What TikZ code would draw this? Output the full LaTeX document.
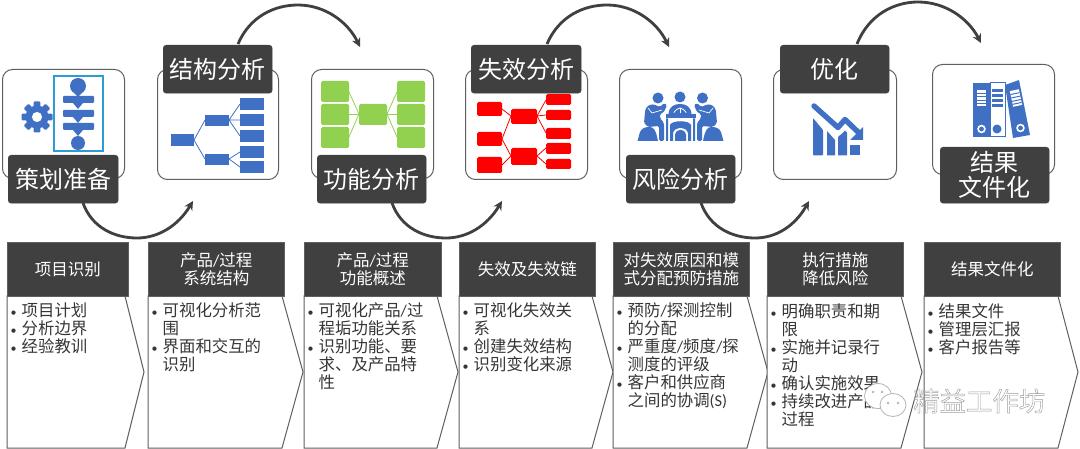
\documentclass[tikz,border=0pt]{standalone}
\usepackage{fontspec}
\setmainfont{Noto Sans CJK SC}
\newfontfamily\latinf{Carlito}
\usetikzlibrary{arrows.meta}
\definecolor{dark}{HTML}{404040}
\definecolor{edge}{HTML}{5F5F5F}
\definecolor{iblue}{HTML}{3F70C4}
\definecolor{igreen}{HTML}{92D050}
\definecolor{ired}{HTML}{FF0000}
\definecolor{wm}{HTML}{B4B4B4}
\newcommand{\bl}{\makebox[9.5pt][l]{\hspace*{-1.6pt}\fontsize{12}{18}\selectfont\latinf •}}
\newcommand{\ct}{\hspace*{9.5pt}}
\newcommand{\slashc}{{\latinf /}}
\tikzset{
  card/.style={draw=edge,line width=1pt,fill=white,rounded corners=10pt},
  tag/.style={fill=dark,draw=dark,rounded corners=3pt,text=white,inner sep=0pt,align=center,
    font=\fontsize{24}{28}\selectfont},
  head/.style={fill=dark,draw=edge,line width=.6pt,text=white,inner sep=0pt,align=center,
    font=\fontsize{16.5}{18}\selectfont},
  bodytext/.style={anchor=north west,inner sep=0pt,align=left,text=dark!85!black,
    font=\fontsize{16.4}{18}\selectfont},
  flow/.style={draw=dark,line width=2.8pt,-{Stealth[length=9pt,width=9pt]}},
  chev/.style={draw=edge,line width=1pt,fill=white},
  tline/.style={iblue,line width=.8pt},
  gline/.style={igreen,line width=.8pt},
  rline/.style={ired,line width=.8pt},
}
\begin{document}
\begin{tikzpicture}[x=1pt,y=-1pt]
\useasboundingbox (0,0) rectangle (1080,449);
\fill[white] (0,0) rectangle (1080,449);

% arcs
\coordinate (a1s) at (83,203); \coordinate (a1e) at (193,201);
\coordinate (a2s) at (238,44); \coordinate (a2e) at (360,47);
\coordinate (a3s) at (392,203); \coordinate (a3e) at (502,201);
\coordinate (a4s) at (547,44); \coordinate (a4e) at (669,47);
\coordinate (a5s) at (701,203); \coordinate (a5e) at (809,201);
\coordinate (a6s) at (857,44); \coordinate (a6e) at (981,43);
\draw[flow] (a1s) .. controls (92,228) and (115,238) .. (137,238) .. controls (158,238) and (178,226) .. (a1e);
\draw[flow] (a2s) .. controls (250,16) and (275,5) .. (298,5) .. controls (325,5) and (348,22) .. (a2e);
\draw[flow] (a3s) .. controls (401,228) and (424,238) .. (446,238) .. controls (467,238) and (487,226) .. (a3e);
\draw[flow] (a4s) .. controls (559,16) and (584,5) .. (607,5) .. controls (634,5) and (657,22) .. (a4e);
\draw[flow] (a5s) .. controls (710,228) and (733,238) .. (755,238) .. controls (776,238) and (795,226) .. (a5e);
\draw[flow] (a6s) .. controls (869,14) and (895,2) .. (918,2) .. controls (945,2) and (968,18) .. (a6e);

% cards
\node[card,minimum width=122pt,minimum height=109pt,inner sep=0pt,anchor=north west] (c1) at (2,69) {};
\node[card,minimum width=121pt,minimum height=110pt,inner sep=0pt,anchor=north west] (c2) at (157,69) {};
\node[card,minimum width=122pt,minimum height=109pt,inner sep=0pt,anchor=north west] (c3) at (311,69) {};
\node[card,minimum width=122pt,minimum height=110pt,inner sep=0pt,anchor=north west] (c4) at (465,69) {};
\node[card,minimum width=122pt,minimum height=109pt,inner sep=0pt,anchor=north west] (c5) at (619,69) {};
\node[card,minimum width=123pt,minimum height=110pt,inner sep=0pt,anchor=north west] (c6) at (773,69) {};
\node[card,minimum width=122pt,minimum height=110pt,inner sep=0pt,anchor=north west] (c7) at (932,64) {};

% icon 1: gear + flowchart
\fill[iblue,even odd rule] (37,117) circle (11.5) (37,117) circle (5.2);
\foreach \a in {0,45,...,315}{
  \fill[iblue,rotate around={\a:(37,117)},rounded corners=1pt] (33.6,101.5) rectangle (40.4,107);
}
\draw[draw=iblue!70!cyan,line width=1.3pt,fill=white] (54,76) rectangle (103,151);
\fill[iblue] (78,86) circle (8);
\fill[iblue,rounded corners=1pt] (63,96) rectangle (94,103);
\fill[iblue,rounded corners=1pt] (63,110) rectangle (94,117);
\fill[iblue,rounded corners=1pt] (63,123) rectangle (94,130);
\fill[iblue] (74,93) -- (82,93) -- (78,97) -- cycle;
\fill[iblue] (73,103) -- (83,103) -- (78,109) -- cycle;
\fill[iblue] (73,117) -- (83,117) -- (78,123) -- cycle;
\fill[iblue] (73,130) -- (83,130) -- (78,136) -- cycle;
\fill[iblue] (78,143) circle (7);

% icon 2: tree
\draw[tline] (194,140) -- (205,120) (194,140) -- (205,159);
\draw[tline] (229,120) -- (240,104) (229,120) -- (240,120) (229,120) -- (240,136);
\draw[tline] (229,159) -- (240,152) (229,159) -- (240,167);
\fill[iblue] (171,134) rectangle (194,146);
\fill[iblue] (205,115) rectangle (229,126);
\fill[iblue] (205,154) rectangle (229,165);
\fill[iblue] (240,98) rectangle (264,110);
\fill[iblue] (240,114) rectangle (264,126);
\fill[iblue] (240,130) rectangle (264,142);
\fill[iblue] (240,146) rectangle (264,158);
\fill[iblue] (240,161) rectangle (264,173);

% icon 3: green
\draw[gline] (349,92) -- (359,114) (349,114.5) -- (387,114.5) (349,137) -- (359,114);
\draw[gline] (387,114) -- (397,92) (387,114.5) -- (397,114.5) (387,114) -- (397,137);
\foreach \x in {321,397}{
  \fill[igreen,rounded corners=1.5pt] (\x,81) rectangle ++(28,21);
  \fill[igreen,rounded corners=1.5pt] (\x,104) rectangle ++(28,21);
  \fill[igreen,rounded corners=1.5pt] (\x,127) rectangle ++(28,21);
}
\fill[igreen,rounded corners=1.5pt] (359,104) rectangle (387,125);

% icon 4: red
\draw[rline] (502,109) -- (511,116) (502,139) -- (511,116) (502,139) -- (511,156) (502,165) -- (511,156);
\draw[rline] (537,116) -- (546,100) (537,116) -- (546,115) (537,116) -- (546,133);
\draw[rline] (537,156) -- (546,148) (537,156) -- (546,164);
\fill[ired,rounded corners=1.5pt] (477,102) rectangle (502,116);
\fill[ired,rounded corners=1.5pt] (477,132) rectangle (502,146);
\fill[ired,rounded corners=1.5pt] (477,157) rectangle (502,173);
\fill[ired,rounded corners=1.5pt] (511,109) rectangle (537,124);
\fill[ired,rounded corners=1.5pt] (511,148) rectangle (537,165);
\fill[ired,rounded corners=1.5pt] (546,94) rectangle (571,105);
\fill[ired,rounded corners=1.5pt] (546,110) rectangle (571,120);
\fill[ired,rounded corners=1.5pt] (546,128) rectangle (571,139);
\fill[ired,rounded corners=1.5pt] (546,143) rectangle (571,154);
\fill[ired,rounded corners=1.5pt] (546,159) rectangle (571,169);

% icon 5: meeting
\fill[iblue] (658,98) circle (5.5) (680,97) circle (5.5) (702.5,98) circle (5.5);
% seats
\fill[iblue] (637.5,141) -- (640,132) .. controls (642,128) and (645,127) .. (650,127) .. controls (654,127) and (656,131) .. (658,141) -- cycle;
\fill[iblue] (723.5,141) -- (721,132) .. controls (719,128) and (716,127) .. (711,127) .. controls (707,127) and (705,131) .. (703,141) -- cycle;
% left person
\fill[iblue,rounded corners=1.5pt] (644,123) -- (645,112) .. controls (646,106) and (650,104.5) .. (654,104.5) -- (660,107) -- (664,103) -- (667,105) -- (664,112) -- (660,114) -- (660,118) -- (664,123) -- (664,141) -- (659,141) -- (659,126) -- (648,127) -- cycle;
\draw[white,line width=.7pt] (648,108) -- (652,113) -- (662,110);
% right person
\fill[iblue,rounded corners=1.5pt] (717,123) -- (716,112) .. controls (715,106) and (711,104.5) .. (707,104.5) -- (701,107) -- (697,103) -- (694,105) -- (697,112) -- (701,114) -- (701,118) -- (697,123) -- (697,141) -- (702,141) -- (702,126) -- (713,127) -- cycle;
\draw[white,line width=.7pt] (713,108) -- (709,113) -- (699,110);
% centre person
\fill[iblue] (668.5,114) .. controls (669,106) and (675,104) .. (680,104) .. controls (685,104) and (691,106) .. (691.5,114) -- cycle;
\draw[white,line width=.8pt,line cap=round] (674,112.5) .. controls (676,109) and (678,109) .. (680,108) .. controls (682,109) and (684,109) .. (686,112.5);
\draw[white,line width=.8pt] (680,108) -- (680,113);
% table
\fill[iblue] (665.5,114.5) rectangle (695.5,118.5);
\fill[iblue] (666,118.5) rectangle (668,141) (693,118.5) rectangle (695,141);
\fill[iblue] (670,141) -- (670,125) .. controls (672,120) and (689,120) .. (691,125) -- (691,141) -- (688,141) -- (688,133) .. controls (686,126) and (675,126) .. (673,133) -- (673,141) -- cycle;
\fill[iblue] (675,141) -- (675,135) .. controls (676,128) and (685,128) .. (686,135) -- (686,141) -- cycle;

% icon 6: chart
\fill[iblue,rounded corners=.8pt] (813,118) -- (823,130) -- (823,155.5) -- (813,155.5) -- cycle;
\fill[iblue] (827,131) -- (835,140) -- (835,155.5) -- (827,155.5) -- cycle;
\fill[iblue] (838,137) -- (847,128) -- (847,155.5) -- (838,155.5) -- cycle;
\fill[iblue] (850,145) rectangle (860,155.5);
\draw[white,line width=9pt,line join=round] (815,109) -- (838,131) -- (845,124) -- (858,137);
\draw[iblue,line width=5.4pt,line cap=round,line join=round] (814,106) -- (838,127.5) -- (845,119.5) -- (858,132);
\fill[iblue] (863,127) -- (863,140) -- (850,140) -- cycle;

% icon 7: binders
\fill[iblue] (973,83) rectangle (990,137.5);
\fill[white] (977,90) rectangle (986,106);
\foreach \y in {93,96.5,100,103}{\fill[iblue] (977,\y) rectangle (986,\y+1);}
\fill[white] (981.5,129) circle (4.3); \fill[iblue] (981.5,129) circle (2.4);
\draw[iblue,line width=1pt,fill=white] (990,83) rectangle (1005,137);
\fill[iblue] (992,89) rectangle (1003,92.5);
\fill[iblue] (992,94.5) rectangle (1003,97.5);
\fill[iblue] (992,99.5) rectangle (1003,102.5);
\fill[iblue] (992,104.5) rectangle (1003,107);
\fill[iblue] (997,129) circle (4.5);
\fill[iblue] (1005,85) -- (1019,80) -- (1030,135) -- (1013,138) -- cycle;
\begin{scope}[shift={(1016,98)},rotate=12]
  \fill[white] (-4.6,-8) rectangle (4.6,8);
  \foreach \y in {-5,-1.5,2,5}{\fill[iblue] (-4.6,\y) rectangle (4.6,\y+1);}
\end{scope}
\fill[white] (1020.5,128) circle (4.3); \fill[iblue] (1020.5,128) circle (2.4);

% tags
\node[tag,minimum width=110pt,minimum height=48pt,anchor=north west] (t1) at (8,155) {策划准备};
\node[tag,minimum width=109pt,minimum height=48pt,anchor=north west] (t2) at (163,45) {结构分析};
\node[tag,minimum width=109pt,minimum height=48pt,anchor=north west] (t3) at (317,155) {功能分析};
\node[tag,minimum width=110pt,minimum height=48pt,anchor=north west] (t4) at (471,45) {失效分析};
\node[tag,minimum width=109pt,minimum height=48pt,anchor=north west] (t5) at (626,155) {风险分析};
\node[tag,minimum width=109pt,minimum height=48pt,anchor=north west] (t6) at (780,45) {优化};
\node[tag,minimum width=109pt,minimum height=56pt,anchor=north west,font=\fontsize{24}{25}\selectfont] (t7) at (940,147) {结果\\文件化};

% chevrons
\draw[chev] (7,296) -- (125,296) -- (144,372) -- (125,448) -- (7,448) -- cycle;
\draw[chev] (148,296) -- (282,296) -- (303,372) -- (282,448) -- (148,448) -- cycle;
\draw[chev] (304,296) -- (437,296) -- (458,372) -- (437,448) -- (304,448) -- cycle;
\draw[chev] (459,296) -- (592,296) -- (613,372) -- (592,448) -- (459,448) -- cycle;
\draw[chev] (613,296) -- (747,296) -- (768,372) -- (747,448) -- (613,448) -- cycle;
\draw[chev] (767,296) -- (901,296) -- (922,372) -- (901,448) -- (767,448) -- cycle;
\draw[chev] (924,296) -- (1058,296) -- (1078,372) -- (1058,448) -- (924,448) -- cycle;

% headers
\node[head,minimum width=121pt,minimum height=54pt,anchor=north west] (h1) at (7,242) {项目识别};
\node[head,minimum width=136pt,minimum height=54pt,anchor=north west] (h2) at (148,242) {产品\slashc 过程\\系统结构};
\node[head,minimum width=137pt,minimum height=54pt,anchor=north west] (h3) at (304,242) {产品\slashc 过程\\功能概述};
\node[head,minimum width=136pt,minimum height=54pt,anchor=north west] (h4) at (459,242) {失效及失效链};
\node[head,minimum width=136pt,minimum height=54pt,anchor=north west] (h5) at (613,242) {对失效原因和模\\式分配预防措施};
\node[head,minimum width=136pt,minimum height=54pt,anchor=north west] (h6) at (767,242) {执行措施\\降低风险};
\node[head,minimum width=136pt,minimum height=54pt,anchor=north west] (h7) at (924,242) {结果文件化};

% bodies
\node[bodytext] (b1) at (12,303) {\bl 项目计划\\\bl 分析边界\\\bl 经验教训};
\node[bodytext] (b2) at (153,303) {\bl 可视化分析范\\\ct 围\\\bl 界面和交互的\\\ct 识别};
\node[bodytext] (b3) at (309,303) {\bl 可视化产品\slashc 过\\\ct 程垢功能关系\\\bl 识别功能、要\\\ct 求、及产品特\\\ct 性};
\node[bodytext] (b4) at (464,303) {\bl 可视化失效关\\\ct 系\\\bl 创建失效结构\\\bl 识别变化来源};
\node[bodytext] (b5) at (618,303) {\bl 预防\slashc 探测控制\\\ct 的分配\\\bl 严重度\slashc 频度\slashc 探\\\ct 测度的评级\\\bl 客户和供应商\\\ct 之间的协调{\latinf (S)}};
\node[bodytext] (b6) at (772,303) {\bl 明确职责和期\\\ct 限\\\bl 实施并记录行\\\ct 动\\\bl 确认实施效果\\\bl 持续改进产品\\\ct 过程};
\node[bodytext] (b7) at (929,303) {\bl 结果文件\\\bl 管理层汇报\\\bl 客户报告等};

% watermark
\fill[white,draw=wm,line width=.8pt] (878,396) ellipse (13.5 and 12.5);
\fill[white,draw=wm,line width=.8pt] (893,405) ellipse (13 and 11.5);
\fill[wm] (888,403) circle (1.3) (898,403) circle (1.3) (873,392) circle (1.3) (882,392) circle (1.3);
\node[inner sep=0pt,text=wm,font=\fontsize{26.4}{28}\selectfont,anchor=west] (wmark) at (913,401) {\special{pdf: code 1 Tr 0.45 w 0.62 0.62 0.62 RG}精益工作坊\special{pdf: code 0 Tr}};
\end{tikzpicture}
\end{document}
